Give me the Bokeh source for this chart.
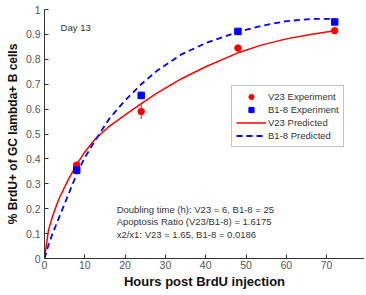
from bokeh.plotting import figure
from bokeh.models import Range1d, Label, Legend, LegendItem, FixedTicker, Whisker, ColumnDataSource
from bokeh.embed import file_html
from bokeh.resources import INLINE

# data
hours = [8, 24, 48, 72]
v23_exp = [0.375, 0.59, 0.845, 0.915]
v23_err = [0.008, 0.03, 0.008, 0.005]
b18_exp = [0.355, 0.655, 0.912, 0.95]
b18_err = [0.008, 0.015, 0.006, 0.006]

pred_x = [0, 1, 2, 3.5, 6, 8, 10, 12.6, 16, 20, 24, 28, 34, 40, 48, 54, 60, 66, 72]
v23_pred = [0.0, 0.115, 0.17, 0.237, 0.32, 0.378, 0.428, 0.48, 0.53, 0.577, 0.622, 0.665, 0.722, 0.77, 0.826, 0.858, 0.882, 0.9, 0.915]
b18_pred = [0.0, 0.055, 0.1, 0.16, 0.26, 0.34, 0.405, 0.475, 0.56, 0.635, 0.7, 0.755, 0.82, 0.865, 0.91, 0.935, 0.953, 0.962, 0.962]

x_ticks = [0, 10, 20, 30, 40, 50, 60, 70, 80]
y_ticks = [0, 0.1, 0.2, 0.3, 0.4, 0.5, 0.6, 0.7, 0.8, 0.9, 1]

p = figure(width=364, height=291, output_backend="svg", toolbar_location=None,
           x_range=Range1d(0, 79.4), y_range=Range1d(0, 1),
           min_border_left=44, min_border_right=0, min_border_top=9, min_border_bottom=30)
p.outline_line_color = None
p.background_fill_color = "white"
p.border_fill_color = "white"
p.xgrid.visible = False
p.ygrid.visible = False

for ax in (p.xaxis[0], p.yaxis[0]):
    ax.major_tick_in = 4
    ax.major_tick_out = 0
    ax.minor_tick_in = 0
    ax.minor_tick_out = 0
    ax.axis_line_color = "#333333"
    ax.major_tick_line_color = "#333333"
    ax.major_label_text_font = "Liberation Sans"
    ax.major_label_text_font_size = "10.5px"
    ax.major_label_text_color = "#555555"
    ax.axis_label_text_font = "Liberation Sans"
    ax.axis_label_text_font_style = "bold"
    ax.axis_label_text_color = "#111111"

p.xaxis.ticker = FixedTicker(ticks=x_ticks)
p.yaxis.ticker = FixedTicker(ticks=y_ticks)
p.yaxis.major_label_overrides = {0: "0", 1: "1"}
p.xaxis.axis_label = "Hours post BrdU injection"
p.xaxis.axis_label_text_font_size = "13px"
p.xaxis.major_label_standoff = 2
p.xaxis.axis_label_standoff = 2
p.yaxis.axis_label = "% BrdU+ of GC lambda+ B cells"
p.yaxis.axis_label_text_font_size = "12px"
p.yaxis.major_label_standoff = 4
p.yaxis.axis_label_standoff = 3

r_pred = p.line(pred_x, v23_pred, line_color="#ff0000", line_width=1.5)
b_pred = p.line(pred_x, b18_pred, line_color="#0000ff", line_width=1.8, line_dash="6 4")

src_v = ColumnDataSource(dict(x=hours, y=v23_exp,
                              lo=[a - e for a, e in zip(v23_exp, v23_err)],
                              hi=[a + e for a, e in zip(v23_exp, v23_err)]))
src_b = ColumnDataSource(dict(x=hours, y=b18_exp,
                              lo=[a - e for a, e in zip(b18_exp, b18_err)],
                              hi=[a + e for a, e in zip(b18_exp, b18_err)]))
p.add_layout(Whisker(source=src_v, base="x", lower="lo", upper="hi", line_color="#ff0000",
                     upper_head=None, lower_head=None))
p.add_layout(Whisker(source=src_b, base="x", lower="lo", upper="hi", line_color="#0000ff",
                     upper_head=None, lower_head=None))
r_exp = p.scatter("x", "y", source=src_v, marker="circle", size=6.5, color="#ff0000")
b_exp = p.scatter("x", "y", source=src_b, marker="square", size=6.5, color="#0000ff")

legend = Legend(items=[
    LegendItem(label="V23 Experiment", renderers=[r_exp]),
    LegendItem(label="B1-8 Experiment", renderers=[b_exp]),
    LegendItem(label="V23 Predicted", renderers=[r_pred]),
    LegendItem(label="B1-8 Predicted", renderers=[b_pred]),
], location=(187, 111))
legend.label_text_font = "Liberation Sans"
legend.label_text_font_size = "9.5px"
legend.label_text_color = "#333333"
legend.glyph_width = 30
legend.glyph_height = 13
legend.label_height = 13
legend.label_standoff = 2
legend.spacing = 0
legend.padding = 4
legend.margin = 0
legend.border_line_color = "#888888"
legend.border_line_width = 1.5
legend.background_fill_alpha = 1
p.add_layout(legend)

p.add_layout(Label(x=4, y=0.927, text="Day 13", text_font="Liberation Sans",
                   text_font_size="9.5px", text_color="#333333", text_baseline="middle"))
notes = ["Doubling time (h): V23 = 6, B1-8 = 25",
         "Apoptosis Ratio (V23/B1-8) = 1.6175",
         "x2/x1: V23 = 1.65, B1-8 = 0.0186"]
for i, t in enumerate(notes):
    p.add_layout(Label(x=17.9, y=0.197 - i * 0.05, text=t, text_font="Liberation Sans",
                       text_font_size="9.5px", text_color="#333333", text_baseline="middle"))

open("out.html", "w").write(file_html(p, INLINE))
